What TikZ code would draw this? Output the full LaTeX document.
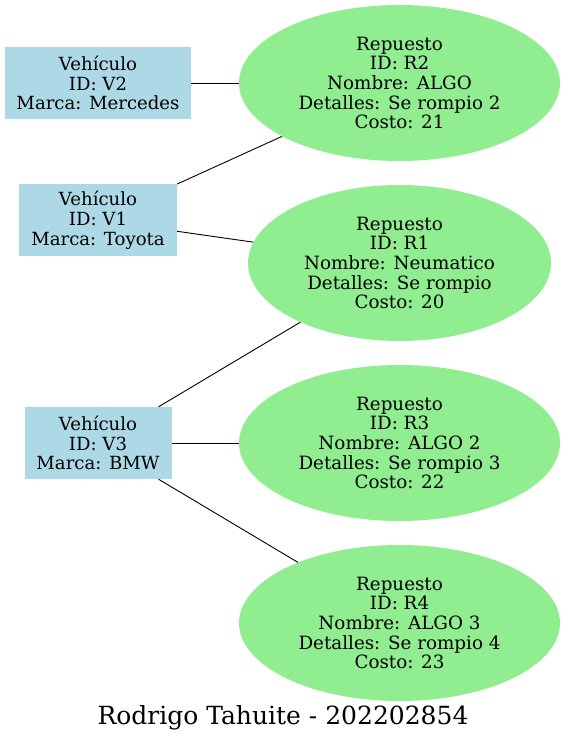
\documentclass[tikz,border=0pt]{standalone}
\usepackage{fontspec}
\setmainfont{DejaVu Serif}
\usetikzlibrary{shapes.geometric}
\definecolor{lblue}{HTML}{ADD8E6}
\definecolor{lgreen}{HTML}{90EE90}
\tikzset{
  veh/.style={rectangle, fill=lblue, draw=none, inner sep=0pt, minimum height=72pt, align=center, font=\fontsize{18.1}{19.8}\selectfont},
  rep/.style={ellipse, fill=lgreen, draw=none, inner sep=0pt, minimum height=156pt, align=center, font=\fontsize{18.3}{19.6}\selectfont},
  link/.style={draw=black, line width=0.9pt}
}
\begin{document}
\begin{tikzpicture}[x=1pt,y=-1pt]
\useasboundingbox (0,0) rectangle (566,747);
\node[veh, minimum width=186pt] (v2) at (98,83) {Vehículo\\ID: V2\\Marca: Mercedes};
\node[veh, minimum width=158pt] (v1) at (98,220) {Vehículo\\ID: V1\\Marca: Toyota};
\node[veh, minimum width=147pt] (v3) at (98,443) {Vehículo\\ID: V3\\Marca: BMW};
\node[rep, minimum width=321pt] (r2) at (399.5,83) {Repuesto\\ID: R2\\Nombre: ALGO\\Detalles: Se rompio 2\\Costo: 21};
\node[rep, minimum width=303pt] (r1) at (399.5,263) {Repuesto\\ID: R1\\Nombre: Neumatico\\Detalles: Se rompio\\Costo: 20};
\node[rep, minimum width=321pt] (r3) at (399.5,443) {Repuesto\\ID: R3\\Nombre: ALGO 2\\Detalles: Se rompio 3\\Costo: 22};
\node[rep, minimum width=321pt] (r4) at (399.5,623) {Repuesto\\ID: R4\\Nombre: ALGO 3\\Detalles: Se rompio 4\\Costo: 23};
\node[font=\fontsize{25}{29}\selectfont] (title) at (283,718) {Rodrigo Tahuite - 202202854};
\draw[link] (v2) -- (r2);
\draw[link] (v1) -- (r2);
\draw[link] (v1) -- (r1);
\draw[link] (v3) -- (r1);
\draw[link] (v3) -- (r3);
\draw[link] (v3) -- (r4);
\end{tikzpicture}
\end{document}
